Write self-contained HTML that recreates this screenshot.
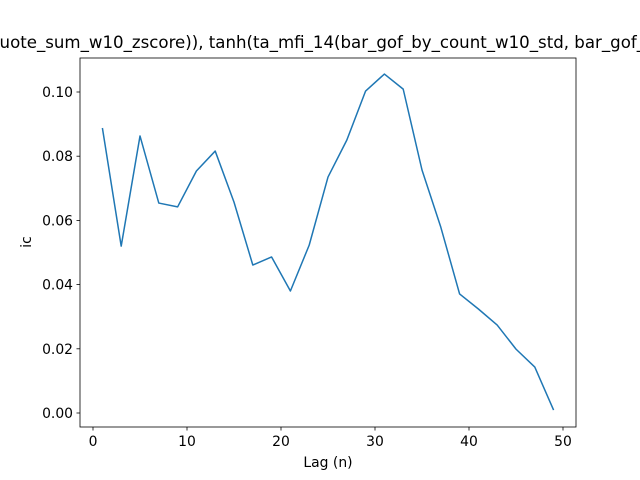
<!DOCTYPE html>
<html><head><meta charset="utf-8"><style>
html,body{margin:0;padding:0;background:#fff;width:640px;height:480px;overflow:hidden}
svg{font-family:"DejaVu Sans","Liberation Sans",sans-serif}
</style></head><body>
<svg id="chart" width="640" height="480" xmlns="http://www.w3.org/2000/svg">
<rect width="640" height="480" fill="#fff"/>
<text x="-11" y="48" font-size="16.7" textLength="656" lengthAdjust="spacingAndGlyphs" fill="#000">quote_sum_w10_zscore)), tanh(ta_mfi_14(bar_gof_by_count_w10_std, bar_gof_</text>
<g id="axes"></g>
<path id="line" fill="none" stroke="#1f77b4" stroke-width="1.5" stroke-linejoin="round"/>
<rect x="80" y="58" width="496" height="369" fill="none" stroke="#000" stroke-width="0.8"/>
<text x="328" y="467" font-size="13.9" text-anchor="middle">Lag (n)</text>
<text transform="translate(31,242) rotate(-90)" font-size="13.9" text-anchor="middle">ic</text>
</svg>
<script>
const lags=[1,3,5,7,9,11,13,15,17,19,21,23,25,27,29,31,33,35,37,39,41,43,45,47,49];
const icValues=[0.0888,0.0520,0.0863,0.0654,0.0642,0.0754,0.0816,0.0657,0.0461,0.0486,0.0380,0.0523,0.0735,0.0850,0.1003,0.1056,0.1009,0.0757,0.0579,0.0371,0.0324,0.0274,0.0199,0.0143,0.0009];
const xTicks=[0,10,20,30,40,50];
const yTicks=[0,0.02,0.04,0.06,0.08,0.10];
const yTickLabels=["0.00","0.02","0.04","0.06","0.08","0.10"];
function xs(v){return 93+v*9.4;}
function ys(v){return 413-v*3210;}
const ns="http://www.w3.org/2000/svg";
const ax=document.getElementById('axes');
xTicks.forEach(t=>{
  const l=document.createElementNS(ns,'line');
  l.setAttribute('x1',xs(t));l.setAttribute('x2',xs(t));l.setAttribute('y1',427);l.setAttribute('y2',430.5);
  l.setAttribute('stroke','#000');l.setAttribute('stroke-width','0.8');
  
  
  ax.appendChild(l);
  const tx=document.createElementNS(ns,'text');
  tx.setAttribute('x',xs(t));tx.setAttribute('y',446);tx.setAttribute('font-size','13.9');tx.setAttribute('text-anchor','middle');
  tx.textContent=t;
  
  
  ax.appendChild(tx);
});
yTicks.forEach((t,i)=>{
  const l=document.createElementNS(ns,'line');
  l.setAttribute('x1',76.5);l.setAttribute('x2',80);l.setAttribute('y1',ys(t));l.setAttribute('y2',ys(t));
  l.setAttribute('stroke','#000');l.setAttribute('stroke-width','0.8');
  
  
  ax.appendChild(l);
  const tx=document.createElementNS(ns,'text');
  tx.setAttribute('x',73);tx.setAttribute('y',ys(t)+5);tx.setAttribute('font-size','13.9');tx.setAttribute('text-anchor','end');
  tx.textContent=yTickLabels[i];
  
  
  ax.appendChild(tx);
});
document.getElementById('line').setAttribute('d',lags.map((l,i)=>(i?'L':'M')+xs(l)+','+ys(icValues[i])).join(' '));
</script>
</body></html>
